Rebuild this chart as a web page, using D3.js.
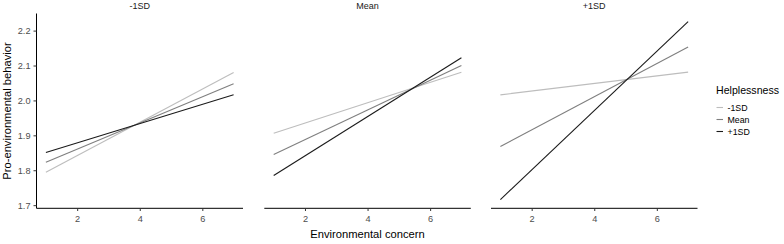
<!DOCTYPE html>
<html><head><meta charset="utf-8">
<script src="https://cdn.jsdelivr.net/npm/d3@7"></script>
<style>body{margin:0;background:#fff;} text{font-family:"Liberation Sans",Arial,sans-serif;}</style>
</head><body><svg id="c" width="784" height="244"></svg>
<script>
const panels = ["-1SD", "Mean", "+1SD"];
const groups = ["-1SD", "Mean", "+1SD"];
const xPoints = [1, 7];
// values at x=1 and x=7 for each group, per panel
const panel1 = [[1.794, 2.080], [1.823, 2.048], [1.851, 2.016]];
const panel2 = [[1.906, 2.081], [1.845, 2.100], [1.785, 2.122]];
const panel3 = [[2.016, 2.081], [1.868, 2.153], [1.716, 2.226]];
const panelValues = [panel1, panel2, panel3];
const xTicks = [2, 4, 6];
const yTicks = [1.7, 1.8, 1.9, 2.0, 2.1, 2.2];
const colors = ["#bdbdbd", "#7f7f7f", "#1a1a1a"];

const svg = d3.select("#c");
const panelLefts = [36.5, 264.3, 491];
const pw = 206.5, plotTop = 13.5, plotBottom = 208.3;
const y = d3.scaleLinear().domain([1.691, 2.249]).range([plotBottom, plotTop]);

panelLefts.forEach((left, pi) => {
  const x = d3.scaleLinear().domain([0.7, 7.3]).range([left, left + pw]);
  const g = svg.append("g");
  panelValues[pi].forEach((vals, gi) => {
    const pts = xPoints.map((xv, k) => [xv, vals[k]]);
    g.append("path")
      .attr("d", d3.line().x(d => x(d[0])).y(d => y(d[1]))(pts))
      .attr("fill", "none").attr("stroke", colors[gi]).attr("stroke-width", 1.1);
  });
  const xa = g.append("g").attr("transform", `translate(0,${plotBottom})`)
    .call(d3.axisBottom(x).tickValues(xTicks).tickSize(2.7).tickPadding(4.4).tickFormat(d3.format("d")));
  xa.select(".domain").attr("stroke", "#000").attr("d", `M${left},0H${left + pw}`);
  xa.selectAll(".tick line").attr("stroke", "#333");
  xa.selectAll("text").attr("fill", "#4d4d4d").style("font-size", "9.2px");
  if (pi === 0) {
    const ya = g.append("g").attr("transform", `translate(${left},0)`)
      .call(d3.axisLeft(y).tickValues(yTicks).tickSize(3).tickPadding(3).tickFormat(d3.format(".1f")));
    ya.select(".domain").attr("stroke", "#000").attr("d", `M0,${plotTop}V${plotBottom}`);
    ya.selectAll(".tick line").attr("stroke", "#333");
    ya.selectAll("text").attr("fill", "#4d4d4d").style("font-size", "9.2px");
  }
  g.append("text").attr("x", left + pw / 2).attr("y", 8.5).attr("text-anchor", "middle")
    .attr("fill", "#1a1a1a").style("font-size", "9px").text(panels[pi]);
});

svg.append("text").attr("x", 367.5).attr("y", 238).attr("text-anchor", "middle")
  .style("font-size", "11.2px").attr("fill", "#000").text("Environmental concern");
svg.append("text").attr("transform", "translate(11,111) rotate(-90)").attr("text-anchor", "middle")
  .style("font-size", "11.2px").attr("fill", "#000").text("Pro-environmental behavior");

const lg = svg.append("g");
lg.append("text").attr("x", 716).attr("y", 94).style("font-size", "10.6px").attr("fill", "#000").text("Helplessness");
groups.forEach((gname, i) => {
  const yy = 107.5 + i * 12;
  lg.append("line").attr("x1", 716.5).attr("x2", 723).attr("y1", yy).attr("y2", yy)
    .attr("stroke", colors[i]).attr("stroke-width", 1.1);
  lg.append("text").attr("x", 727.5).attr("y", yy + 3.2).style("font-size", "8.8px").attr("fill", "#000").text(gname);
});
</script></body></html>
